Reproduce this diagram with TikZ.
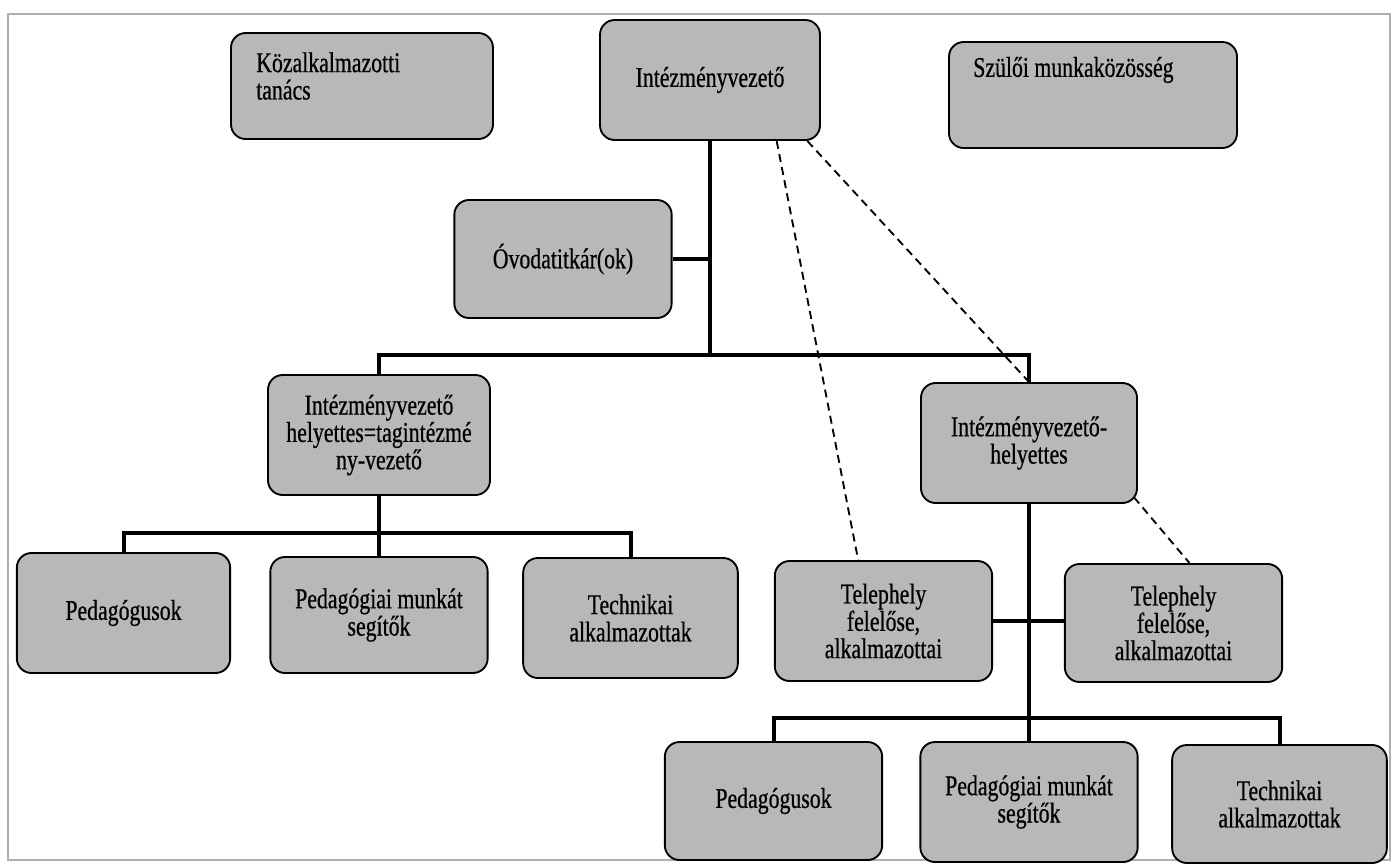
\documentclass[tikz,border=0pt]{standalone}
\usepackage{fontspec}
\setmainfont{Liberation Serif}[FakeStretch=0.76,FakeBold=0.6]
\usepackage{tikz}
\usetikzlibrary{calc}
\definecolor{boxgray}{RGB}{184,184,184}
\definecolor{framegray}{RGB}{175,175,175}

\begin{document}
\begin{tikzpicture}[x=0.75pt,y=-0.75pt,
    unit/.style={draw=black,line width=1.4pt,fill=boxgray,rounded corners=11pt,
      inner sep=0pt,align=center,minimum width=163pt,minimum height=90pt,
      font=\fontsize{21.5}{20.5}\selectfont},
    boxtext/.style={inner sep=0pt,align=left,font=\fontsize{21.5}{20.5}\selectfont},
    link/.style={line width=3pt},
    dashlink/.style={line width=1.4pt,dash pattern=on 6pt off 4pt}]
    \useasboundingbox (0,0) rectangle (1393,865);
    \draw[framegray,line width=2.2pt] (8,14) rectangle (1390,860);

    % top row
    \node[unit,minimum width=196.5pt,minimum height=79.5pt] (kozalk) at (362,86) {};
    \node[boxtext,anchor=west] (kozalktxt) at (256,76) {Közalkalmazotti\\tanács};
    \node[unit,minimum width=165pt] (vezeto) at (710,80) {Intézményvezető};
    \node[unit,minimum width=216pt,minimum height=79.5pt] (szuloi) at (1093,95) {};
    \node[boxtext,anchor=west] (szuloitxt) at (973,70) {Szülői munkaközösség};
    \node[unit,minimum height=88.5pt] (titkar) at (563,259) {Óvodatitkár(ok)};

    % deputies
    \node[unit,minimum width=166.5pt] (helyL) at (379,435) {Intézményvezető\\helyettes=tagintézmé\\ny-vezető};
    \node[unit,minimum width=162pt] (helyR) at (1029,443) {Intézményvezető-\\helyettes};

    % left branch
    \node[unit,minimum width=160pt] (pedL) at (123.5,613) {Pedagógusok};
    \node[unit,minimum height=87pt] (segL) at (379,615) {Pedagógiai munkát\\segítők};
    \node[unit,minimum width=161pt] (techL) at (630.5,618) {Technikai\\alkalmazottak};

    % right branch
    \node[unit] (telepL) at (883.5,621) {Telephely\\felelőse,\\alkalmazottai};
    \node[unit,minimum height=88.5pt] (telepR) at (1173.5,623) {Telephely\\felelőse,\\alkalmazottai};
    \node[unit,minimum height=88.5pt] (pedR) at (773.5,801) {Pedagógusok};
    \node[unit] (segR) at (1029,802) {Pedagógiai munkát\\segítők};
    \node[unit,minimum width=161pt,minimum height=88.5pt] (techR) at (1279.5,804) {Technikai\\alkalmazottak};

    \coordinate (busTop) at (0,355);
    \coordinate (busL) at (0,533);
    \coordinate (busR) at (0,718);

    \draw[link] (vezeto.south) -- (vezeto |- busTop);
    \draw[link] (titkar.east) -- (titkar -| vezeto);
    \draw[link] (helyL.north) -- (helyL |- busTop) -- (helyR |- busTop) -- (helyR.north);

    \draw[link] (helyL.south) -- (helyL |- busL);
    \draw[link] (pedL.north) -- (pedL |- busL) -- (techL |- busL) -- (techL.north);
    \draw[link] (segL.north) -- (segL |- busL);

    \draw[link] (helyR.south) -- (helyR |- busR);
    \draw[link] (telepL.east) -- (telepL.east -| telepR.west);
    \draw[link] (pedR.north) -- (pedR |- busR) -- (techR |- busR) -- (techR.north);
    \draw[link] (segR.north) -- (segR |- busR);

    \draw[dashlink] ([xshift=50pt]vezeto.south) -- ([xshift=-19pt]telepL.north);
    \draw[dashlink] ([xshift=73pt]vezeto.south) -- (helyR.north);
    \draw[dashlink] ([xshift=-3pt,yshift=5pt]helyR.south east) -- ([xshift=12pt]telepR.north);
\end{tikzpicture}
\end{document}
